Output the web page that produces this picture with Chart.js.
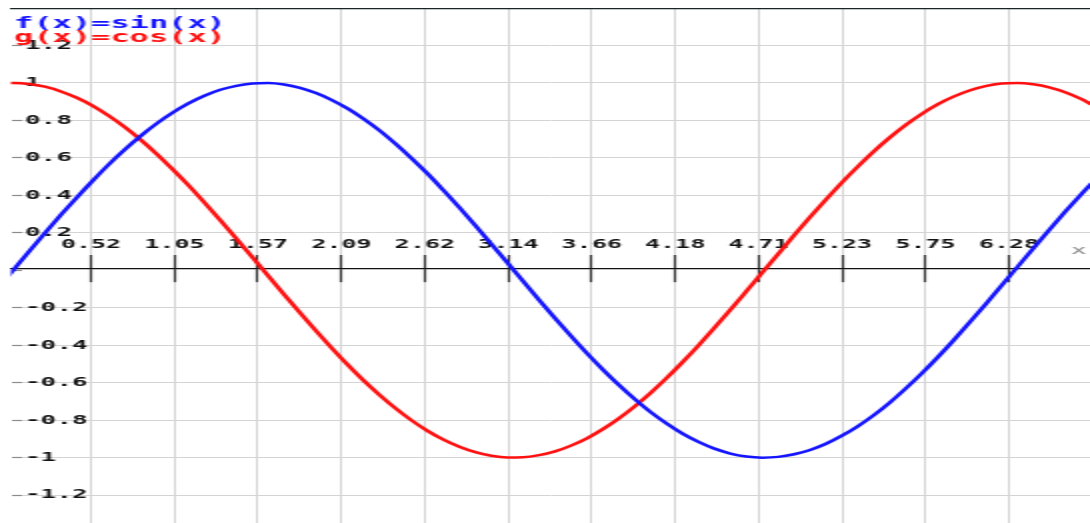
<!DOCTYPE html>
<html>
<head>
<meta charset="utf-8">
<script src="https://cdn.jsdelivr.net/npm/chart.js@4/dist/chart.umd.min.js"></script>
<style>
  html, body { margin: 0; padding: 0; background: #ffffff; overflow: hidden; }
  #wrap { width: 545px; height: 523px; transform: scaleX(2); transform-origin: 0 0; }
  canvas { display: block; }
</style>
</head>
<body>
<div id="wrap"><canvas id="c" width="545" height="523"></canvas></div>
<script>
// ---- data ----
const seriesLabels = ['f(x)=sin(x)', 'g(x)=cos(x)'];
const xValues = [-0.065, 0.035, 0.135, 0.235, 0.335, 0.435, 0.535, 0.635, 0.735, 0.835, 0.935, 1.035, 1.135, 1.235, 1.335, 1.435, 1.535, 1.635, 1.735, 1.835, 1.935, 2.035, 2.135, 2.235, 2.335, 2.435, 2.535, 2.635, 2.735, 2.835, 2.935, 3.035, 3.135, 3.235, 3.335, 3.435, 3.535, 3.635, 3.735, 3.835, 3.935, 4.035, 4.135, 4.235, 4.335, 4.435, 4.535, 4.635, 4.735, 4.835, 4.935, 5.035, 5.135, 5.235, 5.335, 5.435, 5.535, 5.635, 5.735, 5.835, 5.935, 6.035, 6.135, 6.235, 6.335, 6.435, 6.535, 6.635, 6.735, 6.835];
const sinValues = [-0.100, 0, 0.100, 0.199, 0.296, 0.389, 0.479, 0.565, 0.644, 0.717, 0.783, 0.841, 0.891, 0.932, 0.964, 0.985, 0.997, 1.000, 0.992, 0.974, 0.946, 0.909, 0.863, 0.808, 0.746, 0.675, 0.598, 0.516, 0.427, 0.335, 0.239, 0.141, 0.042, -0.058, -0.158, -0.256, -0.351, -0.443, -0.530, -0.612, -0.688, -0.757, -0.818, -0.872, -0.916, -0.952, -0.978, -0.994, -1.000, -0.996, -0.982, -0.959, -0.926, -0.883, -0.832, -0.773, -0.706, -0.631, -0.551, -0.465, -0.374, -0.279, -0.182, -0.083, 0.017, 0.117, 0.215, 0.312, 0.405, 0.494];
const cosValues = [0.995, 1.000, 0.995, 0.980, 0.955, 0.921, 0.878, 0.825, 0.765, 0.697, 0.622, 0.540, 0.454, 0.362, 0.267, 0.170, 0.071, -0.029, -0.129, -0.227, -0.323, -0.416, -0.505, -0.589, -0.666, -0.737, -0.801, -0.857, -0.904, -0.942, -0.971, -0.990, -0.999, -0.998, -0.987, -0.967, -0.936, -0.897, -0.848, -0.791, -0.726, -0.654, -0.575, -0.490, -0.401, -0.307, -0.211, -0.112, -0.012, 0.087, 0.187, 0.284, 0.378, 0.469, 0.554, 0.635, 0.709, 0.776, 0.835, 0.886, 0.927, 0.960, 0.983, 0.997, 1.000, 0.993, 0.977, 0.951, 0.915, 0.869];
const xTickValues = [0.5236, 1.0472, 1.5708, 2.0944, 2.618, 3.1416, 3.6652, 4.1888, 4.7124, 5.236, 5.7596, 6.2832];
const xTickLabels = ['0.52', '1.05', '1.57', '2.09', '2.62', '3.14', '3.66', '4.18', '4.71', '5.23', '5.75', '6.28'];
const yTickValues = [-1.2, -1, -0.8, -0.6, -0.4, -0.2, 0, 0.2, 0.4, 0.6, 0.8, 1, 1.2];
const yTickLabels = ['-1.2', '-1', '-0.8', '-0.6', '-0.4', '-0.2', '', '0.2', '0.4', '0.6', '0.8', '1', '1.2'];
const axisName = 'x';
const xRange = [0.0216, 6.791];
const yRange = [-1.349, 1.395];

// ---- chart ----
const FONT = '"DejaVu Sans Mono", "Liberation Mono", monospace';
Chart.defaults.font.family = FONT;

function pts(ys) { return xValues.map((x, i) => ({ x: x, y: ys[i] })); }
function setTicks(values) { return (scale) => { scale.ticks = values.map(v => ({ value: v })); }; }
function noPad(keepWidth) {
  return (s) => {
    s.paddingTop = 0; s.paddingBottom = 0; s.paddingLeft = 0; s.paddingRight = 0;
    if (!keepWidth && !s.isHorizontal()) s.width = 0;
    if (s.isHorizontal() && typeof s.options.position === 'object') s.height = 0;
  };
}

const overlay = {
  id: 'overlay',
  afterDraw(chart) {
    const { ctx, scales } = chart;
    ctx.save();
    ctx.font = 'bold 16px ' + FONT;
    ctx.textAlign = 'left';
    ctx.textBaseline = 'alphabetic';
    chart.data.datasets.forEach((ds, i) => {
      ctx.fillStyle = ds.borderColor;
      ctx.fillText(ds.label, 7, 28 + i * 14);
    });
    ctx.font = '13px ' + FONT;
    ctx.fillStyle = '#8a8a8a';
    ctx.textAlign = 'center';
    ctx.fillText(axisName, 539.5, scales.y.getPixelForValue(0) - 16);
    ctx.restore();
  }
};

new Chart(document.getElementById('c'), {
  type: 'line',
  data: {
    datasets: [
      { label: seriesLabels[0], data: pts(sinValues), borderColor: '#1414ff', borderWidth: 2.5,
        pointRadius: 0, cubicInterpolationMode: 'monotone', fill: false, clip: 0 },
      { label: seriesLabels[1], data: pts(cosValues), borderColor: '#ff1010', borderWidth: 2.5,
        pointRadius: 0, cubicInterpolationMode: 'monotone', fill: false, clip: 0 }
    ]
  },
  options: {
    responsive: false,
    animation: false,
    events: [],
    layout: { padding: { left: 5.5, top: 9, right: 0, bottom: 0 } },
    plugins: { legend: { display: false }, tooltip: { enabled: false }, title: { display: false } },
    scales: {
      x: {
        type: 'linear', min: xRange[0], max: xRange[1],
        position: { y: 0.01 },
        afterBuildTicks: setTicks(xTickValues),
        afterFit: noPad(),
        grid: { color: '#d4d4d4', lineWidth: 1, drawTicks: true, tickLength: 13, tickColor: '#333', tickWidth: 1.2 },
        border: { display: true, color: '#111', width: 1.2 },
        ticks: {
          autoSkip: false, maxRotation: 0, minRotation: 0, padding: -44,
          color: '#111', font: { size: 12.5, weight: 'bold', family: FONT },
          callback: (v, i) => xTickLabels[i]
        }
      },
      x2: {
        type: 'linear', min: xRange[0], max: xRange[1],
        position: { y: 0.01 },
        afterBuildTicks: setTicks(xTickValues),
        afterFit: noPad(),
        grid: { drawOnChartArea: false, drawTicks: true, tickLength: -13, tickColor: '#333', tickWidth: 1.2 },
        border: { display: false },
        ticks: { display: false }
      },
      xt: {
        type: 'linear', min: xRange[0], max: xRange[1],
        position: 'top',
        afterFit: (s) => { s.paddingLeft = 0; s.paddingRight = 0; s.height = 0; },
        grid: { drawOnChartArea: false, drawTicks: false },
        border: { display: true, color: '#1a2626', width: 1.2 },
        ticks: { display: false }
      },
      y: {
        type: 'linear', min: yRange[0], max: yRange[1],
        position: 'left',
        afterBuildTicks: setTicks(yTickValues),
        afterFit: noPad(),
        grid: {
          color: (c) => (c.tick && c.tick.value === 0) ? 'rgba(0,0,0,0)' : '#d4d4d4',
          lineWidth: 1, drawTicks: true, tickLength: -5.5, tickColor: '#8c8c8c', tickWidth: 1.2
        },
        border: { display: false },
        ticks: {
          mirror: true, padding: 7, color: '#111',
          font: { size: 13, weight: 'bold', family: FONT },
          callback: (v, i) => yTickLabels[i]
        }
      }
    }
  },
  plugins: [overlay]
});
</script>
</body>
</html>
